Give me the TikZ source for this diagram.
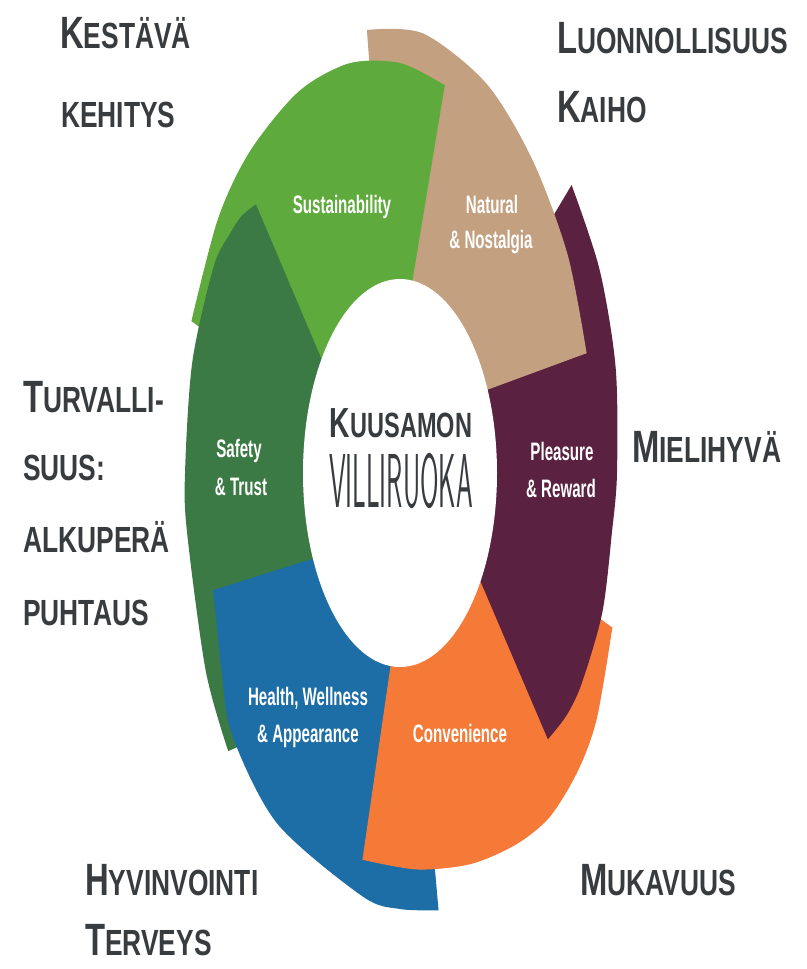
\documentclass[tikz,border=0pt]{standalone}
\usepackage{fontspec}
\setmainfont{Liberation Sans}
\definecolor{sustgreen}{HTML}{5FAA3C}
\definecolor{nattan}{HTML}{C2A080}
\definecolor{plumred}{HTML}{5B2140}
\definecolor{convorange}{HTML}{F57A38}
\definecolor{healthblue}{HTML}{1D6DA6}
\definecolor{safegreen}{HTML}{3B7A45}
\definecolor{inkgray}{HTML}{383C3F}
\newcommand{\initcap}[1]{{\fontsize{28}{28}\selectfont #1}}
\newcommand{\sustpath}{(160:80) -- plot[smooth] coordinates {(160:222) (145:222) (133:220) (118:216) (104:211) (90:205) (77:199)} -- (85:80) -- cycle}

\begin{document}
\begin{tikzpicture}[x=0.03cm,y=-0.03cm]
  \useasboundingbox (0,0) rectangle (807,969);
  \begin{scope}[shift={(400,473)},yscale=-2]
    \fill[sustgreen] \sustpath;
    \fill[safegreen] (-130:80) -- (-138:200) -- plot[smooth] coordinates {(-141:221) (-153:218) (-172:215) (180:215) (165:215) (151:213) (145:208) (141:204) (137:197)} -- (147:80) -- cycle;
    \fill[healthblue] (-80:80) -- plot[smooth] coordinates {(-80:222) (-90:218) (-100:215) (-125:214) (-142:213) (-151:204) (-158:198) (-162.6:196)} -- (-150:80) -- cycle;
    \fill[convorange] (-20:80) -- plot[smooth] coordinates {(-20:226) (-32:232) (-40:232) (-49:228) (-58:219) (-70:208) (-85:199) (-101:197)} -- (-93:78) -- cycle;
    \fill[plumred] (40:80) -- plot[smooth] coordinates {(40:224) (27:224) (13.7:222) (0:217) (-8:214) (-19:214) (-30:210) (-36:206) (-42:199)} -- (-30:78) -- cycle;
    \fill[nattan] (98.5:80) -- plot[smooth] coordinates {(98.5:224) (84:221) (66:213) (49.6:205) (33:200) (17.8:196)} -- (28.5:81) -- cycle;
    % head of the first segment lies over the tan one
    \begin{scope}
      \clip (-60,0) rectangle (100,250);
      \fill[sustgreen] \sustpath;
    \end{scope}
    \fill[white] (0,0) circle (97);
  \end{scope}
  \begin{scope}[font=\fontsize{12.9}{12.9}\selectfont\bfseries,text=white,
      every node/.style={anchor=base,inner sep=0pt,yscale=1.67}]
    \node (sust) at (342,213) {Sustainability};
    \node (natur) at (492,213) {Natural};
    \node (nost) at (491,248) {\& Nostalgia};
    \node (safe) at (239,457) {Safety};
    \node (trust) at (241,495) {\& Trust};
    \node (pleas) at (562,460) {Pleasure};
    \node (rew) at (561,497) {\& Reward};
    \node (health) at (308,705) {Health, Wellness};
    \node (appear) at (308,742) {\& Appearance};
    \node (conv) at (460,742) {Convenience};
  \end{scope}
  \node[anchor=base,inner sep=0pt,yscale=1.49,text=inkgray,font=\fontsize{20.1}{20.1}\selectfont\bfseries]
    (kuusamon) at (401,437) {{\fontsize{24.1}{24.1}\selectfont K}UUSAMON};
  \node[anchor=base,inner sep=0pt,yscale=2.86,text=inkgray,font=\fontsize{22.8}{22.8}\selectfont\sffamily]
    (villi) at (401,507) {VILLIRUOKA};
  \begin{scope}[font=\fontsize{22.5}{22.5}\selectfont\bfseries,text=inkgray,
      every node/.style={anchor=base west,inner sep=0pt,yscale=1.38}]
    \node (kestava) at (60,48) {\initcap{K}ESTÄVÄ};
    \node (kehitys) at (61,127) {KEHITYS};
    \node (luonn) at (557,53) {\initcap{L}UONNOLLISUUS};
    \node (kaiho) at (557,122) {\initcap{K}AIHO};
    \node (turva) at (23,412) {\initcap{T}URVALLI-};
    \node (suus) at (23,480) {SUUS:};
    \node (alku) at (23,552) {ALKUPERÄ};
    \node (puht) at (23,625) {PUHTAUS};
    \node (mieli) at (632,462) {\initcap{M}IELIHYVÄ};
    \node (hyvin) at (85,895) {\initcap{H}YVINVOINTI};
    \node (terv) at (85,955) {\initcap{T}ERVEYS};
    \node (mukav) at (580,895) {\initcap{M}UKAVUUS};
  \end{scope}
\end{tikzpicture}
\end{document}
